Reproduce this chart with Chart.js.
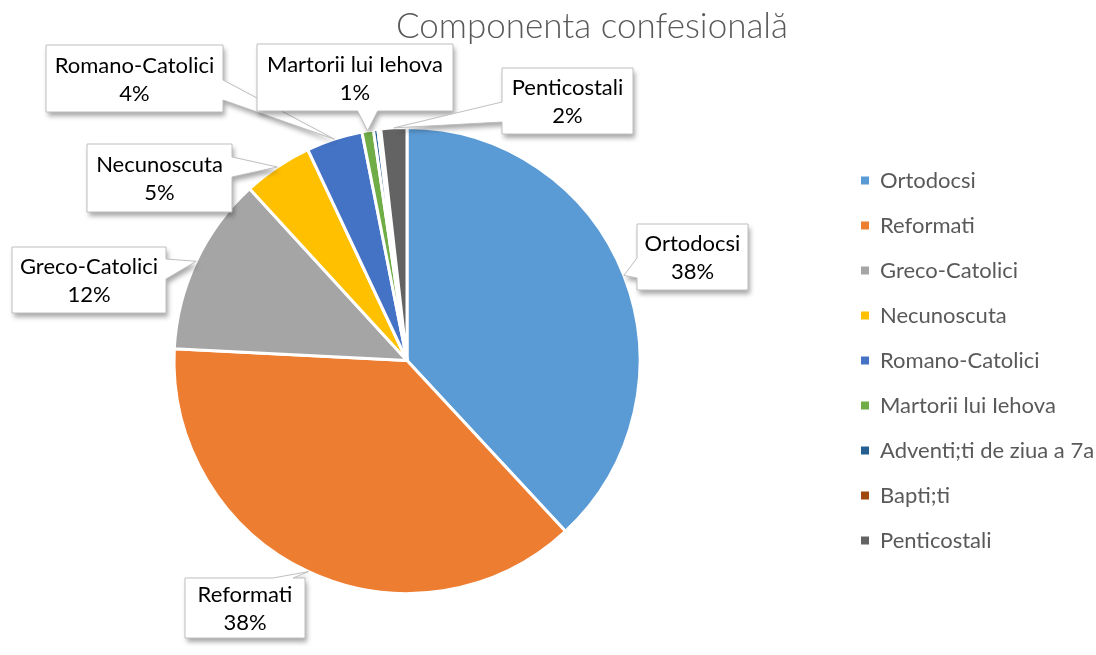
<!DOCTYPE html>
<html>
<head>
<meta charset="utf-8">
<script src="https://cdn.jsdelivr.net/npm/chart.js@4.4.1/dist/chart.umd.min.js"></script>
<style>
  html, body { margin: 0; padding: 0; background: #fff; }
  #wrap { width: 1096px; height: 655px; position: relative; }
</style>
</head>
<body>
<div id="wrap"><canvas id="pieChart"></canvas></div>
<script>
// data (shares in %)
const titleText = 'Componenta confesională';
const categories = ['Ortodocsi', 'Reformati', 'Greco-Catolici', 'Necunoscuta', 'Romano-Catolici',
  'Martorii lui Iehova', 'Adventi;ti de ziua a 7a', 'Bapti;ti', 'Penticostali'];
const shares = [38.1, 37.7, 12.4, 4.8, 3.9, 0.8, 0.3, 0.2, 1.8];
const colors = ['#5B9BD5', '#ED7D31', '#A5A5A5', '#FFC000', '#4472C4',
  '#70AD47', '#255E91', '#9E480E', '#636363'];

// callout boxes [left, top, width, height]; null = no label
const calloutBoxes = [
  [637, 224, 111, 66], [185, 578, 120, 60], [12, 247, 154, 66], [87, 144, 145, 68],
  [46, 45, 177, 67], [257, 44, 196, 67], null, null, [502, 68, 131, 66]
];

(function(){
  const fam = 'Lato, "Open Sans", sans-serif';
  Chart.defaults.font.family = fam;

  const labelFont = '22px ' + fam;
  const legendPad = 23;
  const legendLeft = 838;
  const pieCenterX = 407;

  const total = shares.reduce((a, b) => a + b, 0);

  // pin legend and pie centre where the reference has them
  const placePlugin = {
    id: 'place',
    afterLayout(chart) {
      const lg = chart.legend;
      const w = lg.width;
      lg.left = legendLeft;
      lg.right = legendLeft + w;
      const a = chart.chartArea;
      a.right = legendLeft;
      a.left = 2 * pieCenterX - legendLeft;
      a.width = a.right - a.left;
    }
  };

  const titlePlugin = {
    id: 'titleText',
    afterDraw(chart) {
      const ctx = chart.ctx;
      ctx.save();
      ctx.font = '300 35px ' + fam;
      ctx.fillStyle = '#595959';
      ctx.textAlign = 'center';
      ctx.textBaseline = 'alphabetic';
      ctx.fillText(titleText, 592, 38);
      ctx.restore();
    }
  };

  const calloutPlugin = {
    id: 'callouts',
    afterDatasetsDraw(chart) {
      const ctx = chart.ctx;
      const meta = chart.getDatasetMeta(0);
      meta.data.forEach((arc, i) => {
        const box = calloutBoxes[i];
        if (!box) return;
        const p = arc.getProps(['x', 'y', 'startAngle', 'endAngle', 'outerRadius'], true);
        const mid = (p.startAngle + p.endAngle) / 2;
        const tx = p.x + Math.cos(mid) * p.outerRadius;
        const ty = p.y + Math.sin(mid) * p.outerRadius;
        const [bx, by, bw, bh] = box;
        const d = { left: bx - tx, right: tx - (bx + bw), top: by - ty, bottom: ty - (by + bh) };
        const edge = Object.keys(d).reduce((a, b) => d[b] > d[a] ? b : a);
        const hw = 10, mg = 12;
        const clamp = (v, lo, hi) => Math.max(lo, Math.min(hi, v));

        ctx.save();
        ctx.beginPath();
        ctx.moveTo(bx, by);
        if (edge === 'top') {
          const c = clamp(tx, bx + mg + hw, bx + bw - mg - hw);
          ctx.lineTo(c - hw, by); ctx.lineTo(tx, ty); ctx.lineTo(c + hw, by);
        }
        ctx.lineTo(bx + bw, by);
        if (edge === 'right') {
          const c = clamp(ty, by + mg + hw, by + bh - mg - hw);
          ctx.lineTo(bx + bw, c - hw); ctx.lineTo(tx, ty); ctx.lineTo(bx + bw, c + hw);
        }
        ctx.lineTo(bx + bw, by + bh);
        if (edge === 'bottom') {
          const c = clamp(tx, bx + mg + hw, bx + bw - mg - hw);
          ctx.lineTo(c + hw, by + bh); ctx.lineTo(tx, ty); ctx.lineTo(c - hw, by + bh);
        }
        ctx.lineTo(bx, by + bh);
        if (edge === 'left') {
          const c = clamp(ty, by + mg + hw, by + bh - mg - hw);
          ctx.lineTo(bx, c + hw); ctx.lineTo(tx, ty); ctx.lineTo(bx, c - hw);
        }
        ctx.closePath();

        ctx.shadowColor = 'rgba(0,0,0,0.35)';
        ctx.shadowBlur = 5;
        ctx.shadowOffsetX = 2;
        ctx.shadowOffsetY = 4;
        ctx.fillStyle = '#fff';
        ctx.fill();
        ctx.shadowColor = 'transparent';
        ctx.strokeStyle = '#bfbfbf';
        ctx.lineWidth = 1;
        ctx.stroke();

        ctx.fillStyle = '#000';
        ctx.font = labelFont;
        ctx.textAlign = 'center';
        ctx.textBaseline = 'middle';
        const cx = bx + bw / 2, cy = by + bh / 2;
        ctx.fillText(categories[i], cx, cy - 13);
        ctx.fillText(Math.round(shares[i] / total * 100) + '%', cx, cy + 15);
        ctx.restore();
      });
    }
  };

  const ctx = document.getElementById('pieChart').getContext('2d');
  new Chart(ctx, {
    type: 'pie',
    data: {
      labels: categories,
      datasets: [{
        data: shares,
        backgroundColor: colors,
        borderColor: '#fff',
        borderWidth: 3
      }]
    },
    options: {
      responsive: true,
      maintainAspectRatio: false,
      animation: false,
      layout: { padding: { top: 126, bottom: 60, left: 0, right: 0 } },
      plugins: {
        title: { display: false },
        tooltip: { enabled: false },
        legend: {
          position: 'right',
          labels: {
            font: { size: 22, family: fam },
            color: '#595959',
            boxWidth: 8,
            boxHeight: 8,
            padding: legendPad,
            generateLabels: () => categories.map((t, i) => ({
              text: t, fillStyle: colors[i], strokeStyle: colors[i], lineWidth: 0,
              fontColor: '#595959', hidden: false, index: i
            }))
          }
        }
      }
    },
    plugins: [placePlugin, calloutPlugin, titlePlugin]
  });
})();
</script>
</body>
</html>
